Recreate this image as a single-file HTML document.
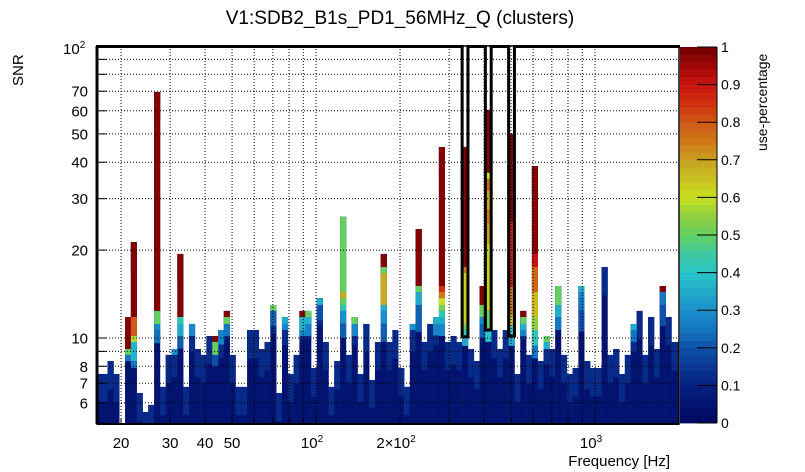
<!DOCTYPE html>
<html><head><meta charset="utf-8">
<style>
html,body{margin:0;padding:0;background:#fff;}
svg{display:block;font-family:"Liberation Sans",Arial,sans-serif;}
</style></head>
<body>
<svg id="chart" width="805" height="472" viewBox="0 0 805 472" xmlns="http://www.w3.org/2000/svg">
<text x="400" y="24" font-size="19" text-anchor="middle">V1:SDB2_B1s_PD1_56MHz_Q (clusters)</text>
<text transform="translate(23,86) rotate(-90)" font-size="15" text-anchor="start">SNR</text>
<text x="670" y="466" font-size="15" text-anchor="end">Frequency [Hz]</text>
<text transform="translate(767,151) rotate(-90)" font-size="14" text-anchor="start">use-percentage</text>
<g id="bars"></g>
<g id="grid"></g>
<g id="boxes"></g>
<g id="axes"></g>
<g id="cbar"></g>
</svg>
<script>
// ---- data ----
const binStartFreq = 20.67;      // lower edge of bin 0 (Hz)
const binsPerDecade = 48;
const firstBinIndex = -5;
// SNR top of each bin, starting at bin index -5 (0 = empty)
const snrTop = [7.53,7.53,8.34,7.53,0,
 11.8,21.3,6.48,5.58,5.9,69.6,6.8,8.75,9.17,19.4,
 6.8,11.17,9.17,8.75,10.16,10.16,10.65,12.38,8.75,6.8,
 6.8,10.65,10.65,9.17,9.69,12.97,6.48,11.8,7.53,8.75,
 12.38,12.38,7.89,13.7,9.69,6.8,8.34,26.0,8.75,11.8,
 7.53,11.17,7.18,9.69,19.4,9.69,10.65,7.89,6.8,11.17,
 23.6,9.69,11.17,11.8,45.1,9.69,10.16,9.69,45.1,9.17,
 8.34,15.07,60.4,10.65,9.17,10.65,50.0,7.53,12.38,8.75,
 38.8,8.34,10.16,9.17,15.07,8.75,7.53,7.89,15.07,8.34,
 7.89,7.89,17.5,8.75,9.17,7.53,8.75,11.17,12.38,8.75,
 11.8,9.17,15.07,11.8,9.69,9.69];
// colour bands: [bin, snrLow, snrHigh, use-percentage]
const bands = [
 [0,9.17,11.8,0.98],[0,8.75,9.17,0.5],[0,8.34,8.75,0.25],
 [1,11.8,21.3,0.98],[1,10.16,11.8,0.8],[1,9.69,10.16,0.58],[1,8.34,9.69,0.37],[1,7.9,8.34,0.25],
 [5,12.38,69.6,0.98],[5,11.17,12.38,0.5],[5,10.65,11.17,0.28],[5,9.6,10.65,0.24],
 [8,8.75,9.17,0.3],
 [9,11.8,19.4,0.98],[9,11.17,11.8,0.42],[9,10.16,11.17,0.35],[9,9.2,10.16,0.22],
 [11,10.16,11.17,0.28],
 [15,9.69,10.16,0.98],[15,8.75,9.69,0.5],[15,8.0,8.75,0.2],
 [16,9.5,10.65,0.27],
 [17,11.8,12.38,0.98],[17,11.17,11.8,0.5],[17,10.16,11.17,0.25],
 [25,12.38,12.97,0.5],[25,11.0,12.38,0.22],
 [27,11.17,11.8,0.35],[27,10.65,11.17,0.28],
 [30,11.8,12.38,0.98],[30,10.65,11.8,0.36],[30,10.16,10.65,0.28],
 [31,11.8,12.38,0.5],[31,11.17,11.8,0.36],[31,10.16,11.17,0.27],
 [33,12.97,13.7,0.35],[33,11.5,12.97,0.2],
 [37,14.37,26.0,0.5],[37,13.7,14.37,0.68],[37,12.97,13.7,0.5],[37,12.38,12.97,0.42],[37,11.2,12.38,0.3],[37,10.0,11.2,0.22],
 [39,11.17,11.8,0.5],[39,10.16,11.17,0.28],
 [44,17.5,19.4,0.98],[44,16.7,17.5,0.5],[44,12.97,16.7,0.68],[44,12.38,12.97,0.35],[44,11.2,12.38,0.3],[44,9.7,11.2,0.22],
 [49,10.65,11.17,0.3],
 [50,15.07,23.6,0.98],[50,14.37,15.07,0.5],[50,12.97,14.37,0.35],[50,10.5,12.97,0.22],
 [53,11.17,11.8,0.36],[53,10.2,11.17,0.28],
 [54,15.07,45.1,0.98],[54,14.37,15.07,0.85],[54,13.7,14.37,0.75],[54,12.97,13.7,0.6],[54,12.38,12.97,0.52],[54,11.8,12.38,0.42],[54,11.17,11.8,0.36],[54,10.16,11.17,0.28],
 [58,17.5,45.1,0.98],[58,16.7,17.5,0.75],[58,11.17,16.7,0.63],[58,10.65,11.17,0.5],[58,10.16,10.65,0.42],[58,9.4,10.16,0.35],
 [61,12.97,15.07,0.98],[61,11.8,12.97,0.5],[61,11.17,11.8,0.28],[61,10.0,11.17,0.22],
 [62,36.8,60.4,0.98],[62,35.0,36.8,0.6],[62,31.9,35.0,0.78],[62,27.4,31.9,0.68],[62,24.8,27.4,0.75],[62,21.0,24.8,0.7],[62,12.4,21.0,0.62],[62,10.65,12.4,0.5],[62,9.7,10.65,0.4],
 [66,25.0,50.0,0.98],[66,15.0,25.0,0.88],[66,12.0,15.0,0.75],[66,11.0,12.0,0.65],[66,10.16,11.0,0.42],[66,9.4,10.16,0.35],
 [68,11.8,12.38,0.98],[68,11.17,11.8,0.5],[68,10.65,11.17,0.36],[68,10.16,10.65,0.28],
 [70,19.4,38.8,0.98],[70,17.5,19.4,0.9],[70,14.37,17.5,0.78],[70,11.8,14.37,0.66],[70,10.65,11.8,0.55],[70,9.4,10.65,0.42],[70,8.5,9.4,0.25],
 [72,9.69,10.16,0.5],[72,9.17,9.69,0.36],
 [74,12.97,15.07,0.5],[74,11.8,12.97,0.36],[74,10.65,11.8,0.25],
 [78,14.37,15.07,0.36],[78,13.7,14.37,0.28],[78,12.4,13.7,0.25],[78,10.5,12.4,0.2],
 [87,10.65,11.17,0.35],[87,9.7,10.65,0.25],
 [92,14.37,15.07,0.98],[92,12.97,14.37,0.25],[92,11.0,12.97,0.2]
];
// highlighted bins (black outline boxes): bin index and lower SNR
const highlightBins = [58,62,66];
const highlightLow = [10.1,10.65,10.16];
// axis ticks
const yTickVals = [6,7,8,9,10,20,30,40,50,60,70,80,90,100];
const yTickLabels = ["6","7","8","","10","20","30","40","50","60","70","","",""];
const xGridVals = [20,30,40,50,60,70,80,90,100,200,300,400,500,600,700,800,900,1000,2000];
const xTickLabelVals = [20,30,40,50];
const cbarTickVals = [0,0.1,0.2,0.3,0.4,0.5,0.6,0.7,0.8,0.9,1];

// ---- scales ----
const X0=97, X1=679, Y0=46, Y1=424;
const FMIN=16.4, FMAX=2000;
function xs(f){return X0+(X1-X0)*Math.log10(f/FMIN)/Math.log10(FMAX/FMIN);}
function ys(s){return Y0+292*(2-Math.log10(s));}
const SNRMIN=Math.pow(10,2-(Y1-Y0)/292);
const stops=[[0,[0,8,96]],[0.1,[6,32,128]],[0.2,[14,80,168]],[0.25,[20,120,192]],[0.3,[26,144,204]],[0.4,[40,196,200]],[0.45,[64,200,160]],[0.5,[100,208,96]],[0.55,[144,208,64]],[0.6,[200,224,32]],[0.65,[200,192,32]],[0.7,[200,160,32]],[0.75,[208,120,24]],[0.8,[208,88,24]],[0.85,[208,48,16]],[0.9,[200,20,16]],[0.95,[160,8,8]],[1,[112,0,0]]];
function col(v){v=Math.max(0,Math.min(1,v));for(let i=1;i<stops.length;i++){if(v<=stops[i][0]){const a=stops[i-1],b=stops[i];const t=(v-a[0])/(b[0]-a[0]);const c=a[1].map((x,j)=>Math.round(x+(b[1][j]-x)*t));return `rgb(${c[0]},${c[1]},${c[2]})`;}}return 'rgb(112,0,0)';}
function binX(k){return xs(binStartFreq*Math.pow(10,k/binsPerDecade));}
const NS='http://www.w3.org/2000/svg';
function mk(tag,parent,attrs){const e=document.createElementNS(NS,tag);for(const a in attrs)e.setAttribute(a,attrs[a]);parent.appendChild(e);return e;}

// clip
const defs=mk('defs',document.getElementById('chart'),{});
const cp=mk('clipPath',defs,{id:'plotclip'});
mk('rect',cp,{x:X0,y:Y0,width:X1-X0,height:Y1-Y0});
const bars=document.getElementById('bars');
bars.setAttribute('clip-path','url(#plotclip)');

function seg(k,lo,hi,v,name){
  const xa=binX(k), xb=binX(k+1);
  const ya=ys(Math.max(lo,SNRMIN)), yb=ys(hi);
  const r=mk('rect',bars,{x:xa.toFixed(2),y:yb.toFixed(2),width:(xb-xa+0.3).toFixed(2),height:Math.max(0,ya-yb).toFixed(2),fill:col(v)});
  
  
}
snrTop.forEach((top,i)=>{
  if(!top) return;
  const k=i+firstBinIndex;
  seg(k,SNRMIN,top,0.05,'bar-bin-'+k);
  seg(k,Math.max(SNRMIN,top/1.25),top,0.12,'bar-top-bin-'+k);
});
bands.forEach(b=>{seg(b[0],b[1],b[2],b[3],'cluster-cell-bin-'+b[0]);});

// grid
const grid=document.getElementById('grid');
xGridVals.forEach(f=>{const x=xs(f);if(x<=X0+1||x>=X1-1)return;
  const l=mk('line',grid,{x1:x,x2:x,y1:Y0,y2:Y1,stroke:'#000','stroke-width':1,'stroke-dasharray':'1,2'});
  
  
});
yTickVals.forEach(s=>{const y=ys(s);if(y<=Y0+1)return;
  const l=mk('line',grid,{x1:X0,x2:X1,y1:y,y2:y,stroke:'#000','stroke-width':1,'stroke-dasharray':'1,2'});
  
  
});

// highlight boxes
const boxes=document.getElementById('boxes');
highlightBins.forEach((k,i)=>{
  const xa=binX(k), xb=binX(k+1), yb=ys(highlightLow[i]);
  const r=mk('path',boxes,{d:`M${xa} ${Y0} L${xa} ${yb} L${xb} ${yb} L${xb} ${Y0}`,fill:'none',stroke:'#000','stroke-width':3});
  
  
});

// axes
const axes=document.getElementById('axes');
const fr=mk('rect',axes,{x:X0,y:Y0,width:X1-X0,height:Y1-Y0,fill:'none',stroke:'#000','stroke-width':1.5});


// thick top and left lines, with gaps inside highlight boxes
let segStart=X0-1;
const gaps=highlightBins.map(k=>[binX(k)+1.5,binX(k+1)-1.5]);
gaps.concat([[X1+1,X1+1]]).forEach(g=>{
  const l=mk('line',axes,{x1:segStart,x2:g[0],y1:Y0+0.5,y2:Y0+0.5,stroke:'#000','stroke-width':3});
  
  
  segStart=g[1];
});
const la=mk('line',axes,{x1:X0,x2:X0,y1:Y0,y2:Y1,stroke:'#000','stroke-width':3});


const ba=mk('line',axes,{x1:X0,x2:X1,y1:Y1,y2:Y1,stroke:'#000','stroke-width':2});


yTickVals.forEach((s,i)=>{const y=ys(s);
  const t=mk('line',axes,{x1:X0,x2:X0+10,y1:y,y2:y,stroke:'#000','stroke-width':1});
  
  
  if(yTickLabels[i]){const tx=mk('text',axes,{x:88,y:y+5.5,'font-size':15,'text-anchor':'end'});tx.textContent=yTickLabels[i];
    
    }
});
{const tx=mk('text',axes,{x:63,y:54,'font-size':15});tx.innerHTML='10<tspan dy="-6" font-size="10">2</tspan>';
 
 }
xGridVals.forEach(f=>{const x=xs(f);
  const t=mk('line',axes,{x1:x,x2:x,y1:Y1,y2:Y1-(f===100||f===1000?10:6),stroke:'#000','stroke-width':1});
  
  
});
xTickLabelVals.forEach(f=>{const tx=mk('text',axes,{x:xs(f),y:448,'font-size':15,'text-anchor':'middle'});tx.textContent=String(f);
  
  });
[[100,'10','2',''],[200,'2×10','2',''],[1000,'10','3','']].forEach(d=>{
  const tx=mk('text',axes,{x:xs(d[0])-4,y:448,'font-size':15,'text-anchor':'middle'});
  tx.innerHTML=d[1]+'<tspan dy="-6" font-size="10">'+d[2]+'</tspan>';
  
  
});

// colorbar
const cb=document.getElementById('cbar');
const CX0=680, CX1=717, CY0=47, CY1=423;
const N=50;
for(let i=0;i<N;i++){const v=(i+0.5)/N;const ya=CY1-(i+1)*(CY1-CY0)/N;
  const r=mk('rect',cb,{x:CX0,y:ya.toFixed(2),width:CX1-CX0,height:((CY1-CY0)/N+0.4).toFixed(2),fill:col(v)});
  
  }
const cbf=mk('line',cb,{x1:CX1,x2:CX1,y1:CY0,y2:CY1,stroke:'#000','stroke-width':1});


cbarTickVals.forEach(v=>{const y=CY1-v*(CY1-CY0);
  const t=mk('line',cb,{x1:CX1-20,x2:CX1,y1:y,y2:y,stroke:'#000','stroke-width':1});
  
  
  const tx=mk('text',cb,{x:721,y:y+5,'font-size':14});tx.textContent=(v===0||v===1)?String(v):v.toFixed(1);
  
  
});
</script>
</body></html>
